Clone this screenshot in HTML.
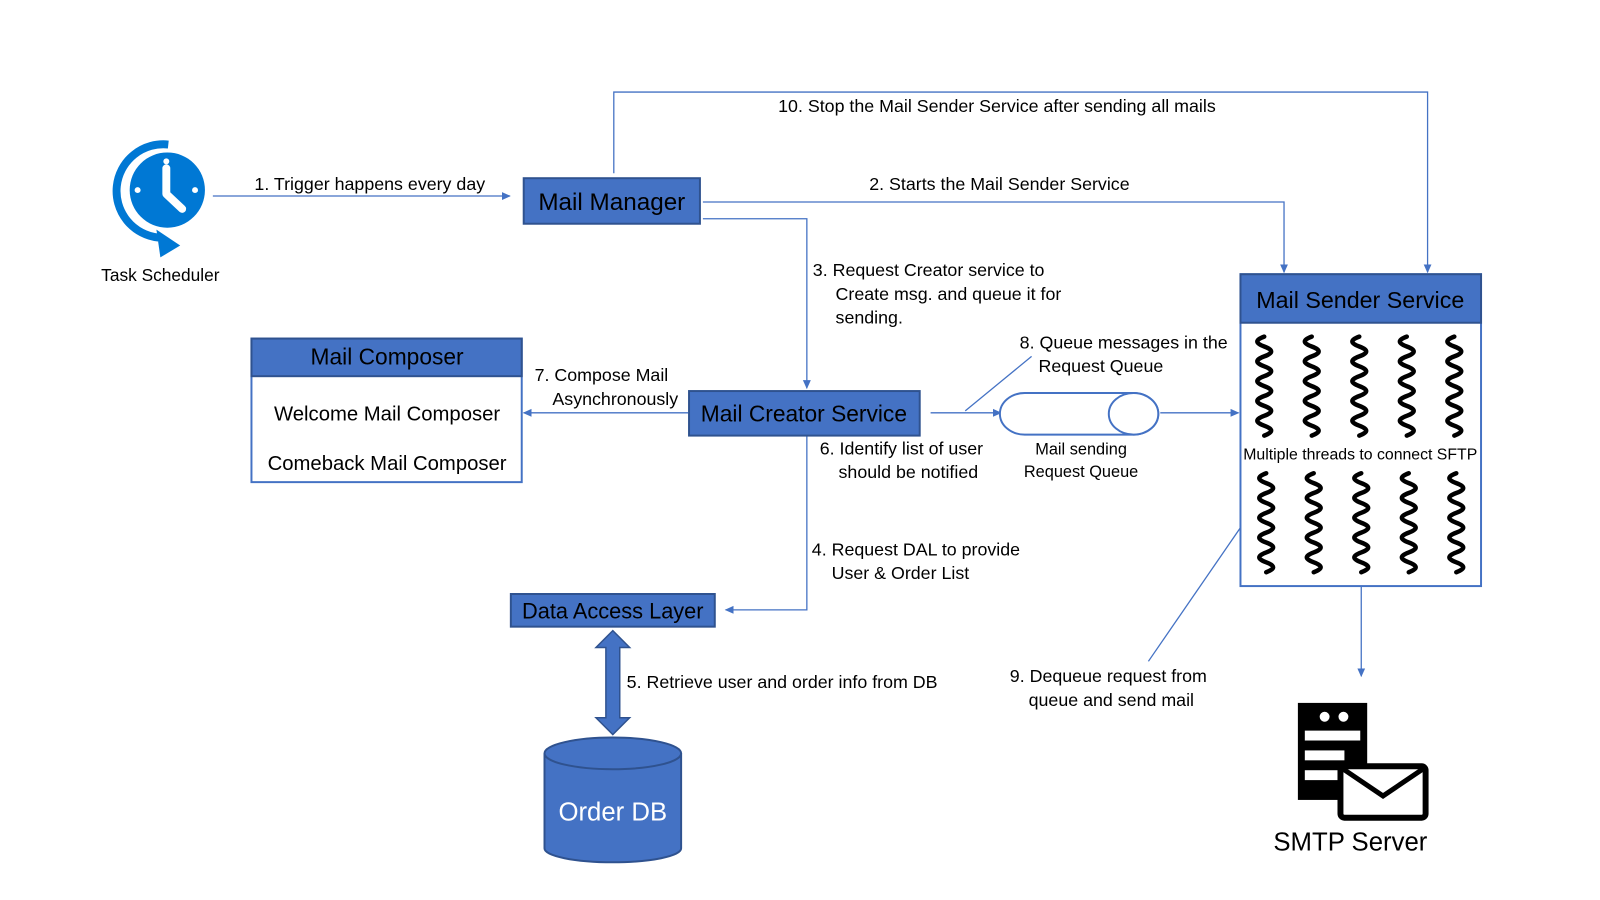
<!DOCTYPE html>
<html><head><meta charset="utf-8"><style>
html,body{margin:0;padding:0;background:#fff;}
svg{display:block;font-family:"Liberation Sans",sans-serif;}
</style></head><body>
<svg width="1600" height="900" viewBox="0 0 1600 900" xmlns="http://www.w3.org/2000/svg">
<defs>
<marker id="a" markerWidth="10" markerHeight="10" refX="8" refY="5" orient="auto" markerUnits="userSpaceOnUse"><path d="M0,1 L9,5 L0,9 z" fill="#4472c4"/></marker>
<path id="sq" d="M0,0 q-14,5 0,10 q14,5 0,10 q-14,5 0,10 q14,5 0,10 q-14,5 0,10 q14,5 0,10 q-14,5 0,10 q14,5 0,10 q-14,5 0,10 q14,5 0,10"/>
</defs>
<g transform="scale(0.99)">
<g stroke="#4472c4" stroke-width="1.3" fill="none">
<line x1="215" y1="198" x2="515" y2="198" marker-end="url(#a)"/>
<polyline points="620,175 620,93 1442,93 1442,275" marker-end="url(#a)"/>
<polyline points="710,204 1297,204 1297,275" marker-end="url(#a)"/>
<polyline points="710,221 815,221 815,392" marker-end="url(#a)"/>
<line x1="695" y1="417" x2="529" y2="417" marker-end="url(#a)"/>
<polyline points="815,440 815,616 733,616" marker-end="url(#a)"/>
<line x1="940" y1="417" x2="1011" y2="417" marker-end="url(#a)"/>
<line x1="975" y1="415" x2="1042" y2="360"/>
<line x1="1172" y1="417" x2="1251" y2="417" marker-end="url(#a)"/>
<line x1="1160" y1="668" x2="1253" y2="533"/>
<line x1="1375" y1="592" x2="1375" y2="683" marker-end="url(#a)"/>
</g>
<g>
<circle cx="169" cy="192" r="38" fill="#0078d4"/>
<path d="M170,146 A46,46 0 0 0 160,240" stroke="#0078d4" stroke-width="8" fill="none"/>
<path d="M158,232 L182,248 L162,260 z" fill="#0078d4"/>
<path d="M168,170 L168,196 L184,211" stroke="#fff" stroke-width="8" fill="none" stroke-linecap="round" stroke-linejoin="round"/>
<circle cx="168" cy="163" r="3" fill="#fff"/><circle cx="139" cy="192" r="3" fill="#fff"/><circle cx="197" cy="192" r="3" fill="#fff"/>
</g>
<text x="162" y="284" font-size="17.5" text-anchor="middle">Task Scheduler</text>
<rect x="529" y="180" width="178" height="46" fill="#4472c4" stroke="#2f528f" stroke-width="2"/>
<text x="618" y="212" font-size="24.5" text-anchor="middle" fill="#000">Mail Manager</text>
<rect x="254" y="342" width="273" height="145" fill="#fff" stroke="#4472c4" stroke-width="2"/>
<rect x="254" y="342" width="273" height="38" fill="#4472c4" stroke="#2f528f" stroke-width="2"/>
<text x="391" y="368" font-size="23" text-anchor="middle">Mail Composer</text>
<text x="391" y="425" font-size="20.5" text-anchor="middle">Welcome Mail Composer</text>
<text x="391" y="475" font-size="20.5" text-anchor="middle">Comeback Mail Composer</text>
<rect x="696" y="395" width="233" height="45" fill="#4472c4" stroke="#2f528f" stroke-width="2"/>
<text x="812" y="426" font-size="23" text-anchor="middle">Mail Creator Service</text>
<rect x="516" y="600" width="206" height="33" fill="#4472c4" stroke="#2f528f" stroke-width="2"/>
<text x="619" y="625" font-size="22" text-anchor="middle">Data Access Layer</text>
<path d="M619,637 L636,654 L626,654 L626,725 L636,725 L619,742 L602,725 L612,725 L612,654 L602,654 z" fill="#4472c4" stroke="#2f528f" stroke-width="1.5"/>
<path d="M550,761 L550,857 A69,14 0 0 0 688,857 L688,761" fill="#4472c4" stroke="#2f528f" stroke-width="2"/>
<ellipse cx="619" cy="761" rx="69" ry="16" fill="#4472c4" stroke="#2f528f" stroke-width="2"/>
<text x="619" y="829" font-size="26" text-anchor="middle" fill="#fff">Order DB</text>
<path d="M1035,397 L1145,397 A25,21 0 0 1 1145,439 L1035,439 A25,21 0 0 1 1035,397 z" fill="#fff" stroke="#4472c4" stroke-width="2"/>
<ellipse cx="1145" cy="418" rx="25" ry="21" fill="#fff" stroke="#4472c4" stroke-width="2"/>
<text x="1092" y="459" font-size="16.5" text-anchor="middle">Mail sending</text>
<text x="1092" y="482" font-size="16.5" text-anchor="middle">Request Queue</text>
<rect x="1253" y="277" width="243" height="315" fill="#fff" stroke="#4472c4" stroke-width="2"/>
<rect x="1253" y="277" width="243" height="49" fill="#4472c4" stroke="#2f528f" stroke-width="2"/>
<text x="1374" y="311" font-size="23.5" text-anchor="middle">Mail Sender Service</text>
<text x="1374" y="464" font-size="16" text-anchor="middle">Multiple threads to connect SFTP</text>
<g stroke="#000" stroke-width="4.5" fill="none" stroke-linecap="round">
<use href="#sq" x="1277" y="340"/><use href="#sq" x="1325" y="340"/><use href="#sq" x="1373" y="340"/><use href="#sq" x="1421" y="340"/><use href="#sq" x="1469" y="340"/>
<use href="#sq" x="1279" y="478"/><use href="#sq" x="1327" y="478"/><use href="#sq" x="1375" y="478"/><use href="#sq" x="1423" y="478"/><use href="#sq" x="1471" y="478"/>
</g>
<g transform="translate(13,8)">
<rect x="1298" y="702" width="70" height="98" fill="#000"/>
<circle cx="1325" cy="716" r="5" fill="#fff"/><circle cx="1344" cy="716" r="5" fill="#fff"/>
<rect x="1305" y="730" width="56" height="10" fill="#fff"/><rect x="1305" y="750" width="40" height="10" fill="#fff"/><rect x="1305" y="770" width="40" height="10" fill="#fff"/>
<rect x="1341" y="766" width="86" height="52" rx="4" fill="#fff" stroke="#000" stroke-width="6"/>
<path d="M1344,769 L1384,796 L1424,769" fill="none" stroke="#000" stroke-width="5"/>
<text x="1351" y="851" font-size="26" text-anchor="middle">SMTP Server</text>
</g>
<g font-size="18" fill="#000">
<text x="257" y="192">1. Trigger happens every day</text>
<text x="786" y="113">10. Stop the Mail Sender Service after sending all mails</text>
<text x="878" y="192">2. Starts the Mail Sender Service</text>
<text x="821" y="279">3. Request Creator service to</text>
<text x="844" y="303">Create msg. and queue it for</text>
<text x="844" y="327">sending.</text>
<text x="1030" y="352">8. Queue messages in the</text>
<text x="1049" y="376">Request Queue</text>
<text x="540" y="385">7. Compose Mail</text>
<text x="558" y="409">Asynchronously</text>
<text x="828" y="459">6. Identify list of user</text>
<text x="847" y="483">should be notified</text>
<text x="820" y="561">4. Request DAL to provide</text>
<text x="840" y="585">User &amp; Order List</text>
<text x="633" y="695">5. Retrieve user and order info from DB</text>
<text x="1020" y="689">9. Dequeue request from</text>
<text x="1039" y="713">queue and send mail</text>
</g>
</g>
</svg>
</body></html>
